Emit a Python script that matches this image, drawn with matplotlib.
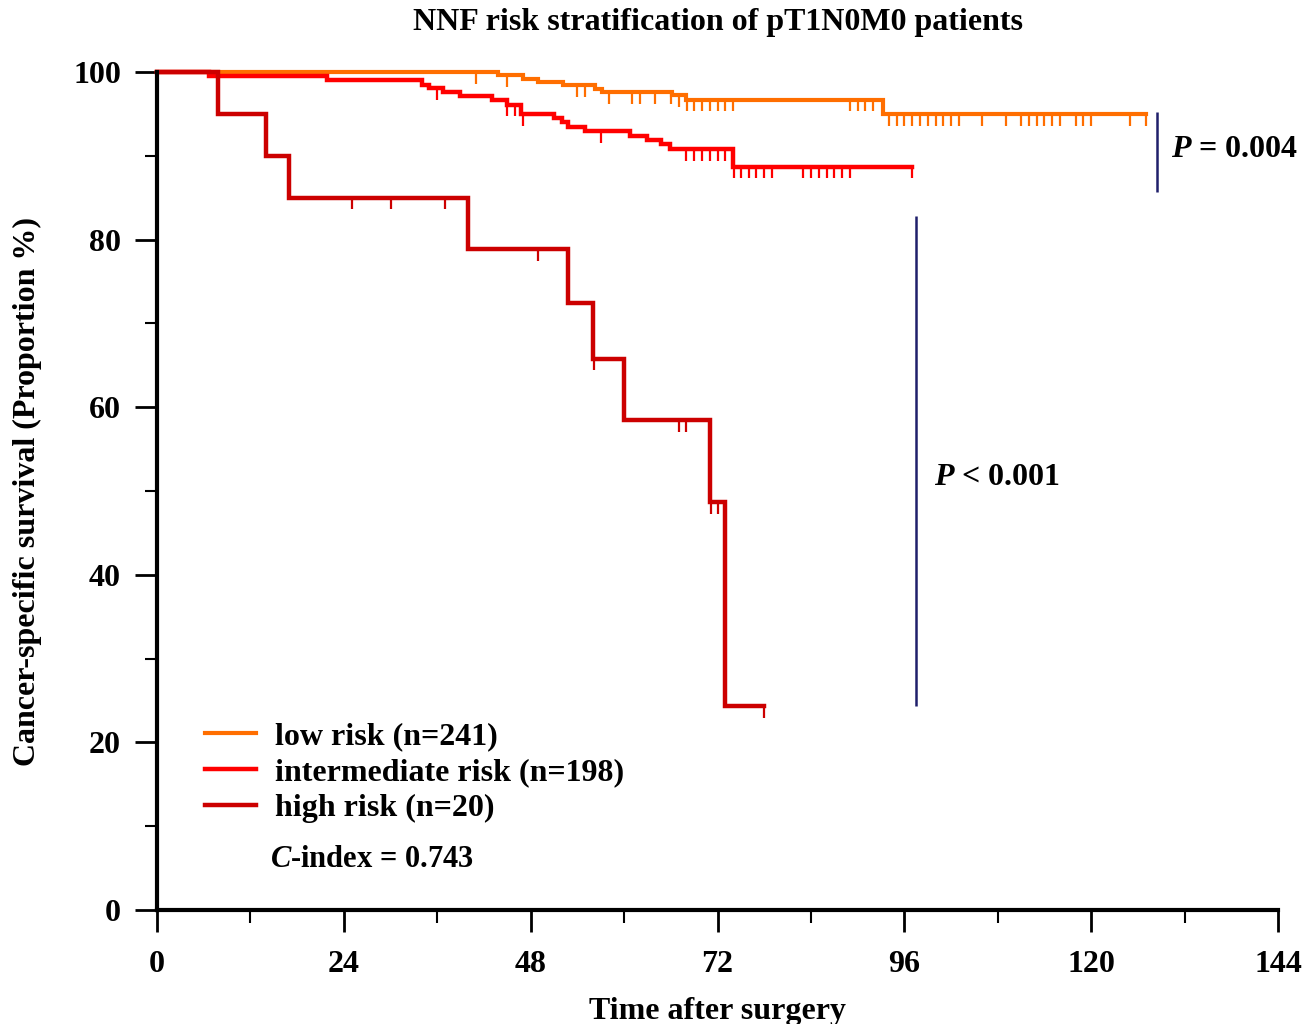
import numpy as np
import matplotlib.pyplot as plt
from matplotlib.ticker import MultipleLocator

plt.rcParams['font.family'] = ['Liberation Serif', 'DejaVu Serif']
plt.rcParams['font.weight'] = 'bold'
plt.rcParams['mathtext.fontset'] = 'custom'
plt.rcParams['mathtext.it'] = 'Liberation Serif:italic:bold'
plt.rcParams['mathtext.rm'] = 'Liberation Serif:bold'

# Kaplan-Meier steps (months, survival %)
low_t = [0, 43.8, 47.0, 49.0, 52.2, 56.3, 57.1, 66.2, 68.0, 93.2]
low_s = [100, 99.6, 99.2, 98.8, 98.4, 98.0, 97.6, 97.2, 96.7, 95.0]
low_end = 127
low_cens = [41, 45, 54, 55, 58, 61, 62, 64, 66, 67, 68.1, 69, 70, 71, 72, 73, 74,
            89, 90, 91, 92, 94, 95, 96, 97, 98, 99, 100, 101, 102, 103, 106, 109,
            111, 112, 113, 114, 115, 116, 118, 119, 120, 125, 127]

mid_t = [0, 6.7, 21.8, 34.0, 34.9, 36.8, 38.9, 43.0, 44.9, 46.8, 51.0, 52.0, 52.8,
         55.0, 60.8, 62.9, 64.8, 65.9, 74.0]
mid_s = [100, 99.5, 99.0, 98.5, 98.1, 97.6, 97.1, 96.6, 96.1, 95.0, 94.5, 94.0, 93.4,
         92.9, 92.4, 91.9, 91.4, 90.8, 88.7]
mid_end = 97
mid_cens = [36, 45, 46, 47, 57, 68, 69, 70, 71, 72, 73, 74.1, 75, 76, 77, 78, 79,
            83, 84, 85, 86, 87, 88, 89, 97]

high_t = [0, 7.8, 14, 17, 40, 52.8, 56, 60, 71, 73]
high_s = [100, 95, 90, 85, 78.9, 72.4, 65.8, 58.5, 48.7, 24.3]
high_end = 78
high_cens = [25, 30, 37, 49, 56.1, 67, 68, 71.1, 72, 78]

groups = [
    ('low risk (n=241)', low_t, low_s, low_end, low_cens, '#FF6E00', 3.0),
    ('intermediate risk (n=198)', mid_t, mid_s, mid_end, mid_cens, '#FF0000', 3.2),
    ('high risk (n=20)', high_t, high_s, high_end, high_cens, '#CC0000', 3.2),
]

fig = plt.figure(figsize=(13.15, 10.24), dpi=100)
ax = fig.add_axes([0.1194, 0.1113, 0.8525, 0.8184])

for label, t, s, end, cens, color, lw in groups:
    xs = list(t) + [end]
    ys = list(s) + [s[-1]]
    ax.plot(xs, ys, drawstyle='steps-post', color=color, lw=lw, label=label,
            clip_on=False, solid_joinstyle='miter')
    idx = np.searchsorted(t, cens, side='right') - 1
    cy = np.array(s)[idx]
    ax.vlines(cens, cy - 1.4, cy, color=color, lw=1.6)

# p-value brackets
ax.vlines(128.5, 85.7, 95.2, color='#1F1F6B', lw=1.8)
ax.vlines(97.5, 24.3, 82.8, color='#1F1F6B', lw=1.8)
ax.text(130.3, 90.7, '$P$ = 0.004', fontsize=23, va='center', ha='left')
ax.text(99.8, 51.6, '$P$ < 0.001', fontsize=23, va='center', ha='left')
ax.text(14.5, 6.0, '$C$-index = 0.743', fontsize=22, va='center', ha='left')

ax.set_xlim(0, 144)
ax.set_ylim(0, 100)
ax.xaxis.set_major_locator(MultipleLocator(24))
ax.xaxis.set_minor_locator(MultipleLocator(12))
ax.yaxis.set_major_locator(MultipleLocator(20))
ax.yaxis.set_minor_locator(MultipleLocator(10))
ax.spines['top'].set_visible(False)
ax.spines['right'].set_visible(False)
ax.spines['left'].set_linewidth(3)
ax.spines['bottom'].set_linewidth(3)
ax.tick_params(which='major', length=16, width=2, labelsize=23, pad=10)
ax.tick_params(axis='x', which='major', pad=13)
ax.tick_params(which='minor', length=9, width=1.5)

ax.set_title('NNF risk stratification of pT1N0M0 patients', fontsize=23, pad=30,
             fontweight='bold')
ax.set_xlabel('Time after surgery', fontsize=23, labelpad=13, fontweight='bold')
ax.set_ylabel('Cancer-specific survival (Proportion %)', fontsize=23, labelpad=22,
              fontweight='bold')

ax.legend(loc='upper left', bbox_to_anchor=(0.043, 0.224), frameon=False,
          fontsize=23, handlelength=1.6, handletextpad=0.6, labelspacing=0.2,
          borderaxespad=0, borderpad=0)

fig.savefig('out.png', dpi=100)
